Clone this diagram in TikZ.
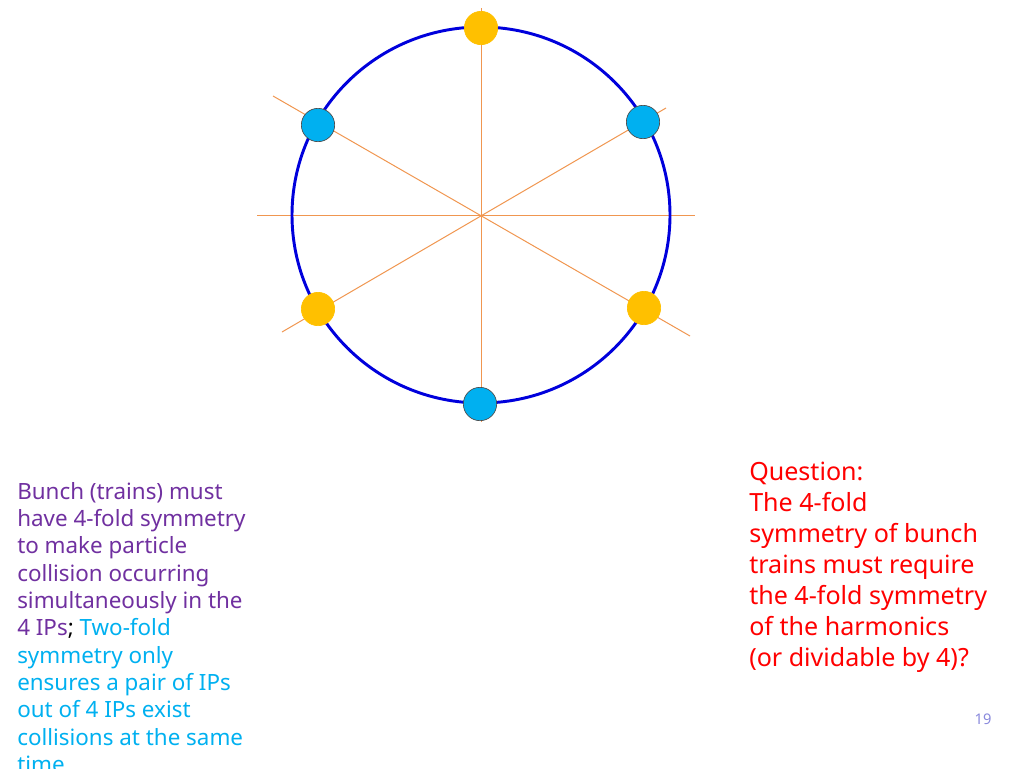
\documentclass[tikz,border=0pt]{standalone}
\usepackage{fontspec}
\setmainfont{Noto Sans}
\definecolor{ring}{RGB}{0,0,220}
\definecolor{spoke}{RGB}{240,150,80}
\definecolor{gold}{RGB}{255,192,0}
\definecolor{sky}{RGB}{0,176,240}
\definecolor{purp}{RGB}{112,48,160}
\definecolor{pnum}{RGB}{137,137,220}
\begin{document}
\begin{tikzpicture}[x=0.75pt,y=-0.75pt,
  sp/.style={spoke,line width=0.75pt},
  dot/.style={circle,draw=black!70,line width=0.5pt,minimum size=25pt,inner sep=0pt},
  yel/.style={dot,fill=gold,draw=gold},
  blu/.style={dot,fill=sky}]
\useasboundingbox (0,0) rectangle (1024,768);
\coordinate (c) at (481,215);
\coordinate (h1) at (257,215); \coordinate (h2) at (695,215);
\coordinate (v1) at (481,8); \coordinate (v2) at (481,422);
\coordinate (d1) at (273,96); \coordinate (d2) at (690,336);
\coordinate (e1) at (282,332); \coordinate (e2) at (666,108);
\draw[sp] (h1) -- (h2);
\draw[sp] (v1) -- (v2);
\draw[sp] (d1) -- (d2);
\draw[sp] (e1) -- (e2);
\draw[ring,line width=2.2pt] (c) ellipse [x radius=189, y radius=188];
\node[yel] (t) at (481,28) {};
\node[blu] (a) at (318,125) {};
\node[blu] (b) at (643,122) {};
\node[yel] (d) at (318,309) {};
\node[yel] (e) at (644,308) {};
\node[blu] (f) at (480,404) {};
\node[anchor=north west,align=left,inner sep=0pt,font=\fontsize{16.8}{20.5}\selectfont,text=purp] (lt) at (17,482)
{Bunch (trains) must\\have 4-fold symmetry\\to make particle\\collision occurring\\simultaneously in the\\4 IPs\textcolor{black}{;} \textcolor{sky}{Two-fold}\\\textcolor{sky}{symmetry only}\\\textcolor{sky}{ensures a pair of IPs}\\\textcolor{sky}{out of 4 IPs exist}\\\textcolor{sky}{collisions at the same}\\\textcolor{sky}{time.}};
\node[anchor=north west,align=left,inner sep=0pt,font=\fontsize{18.8}{23.2}\selectfont,text=red] (rt) at (749,462)
{Question:\\The 4-fold\\symmetry of bunch\\trains must require\\the 4-fold symmetry\\of the harmonics\\(or dividable by 4)?};
\node[anchor=base,font=\fontsize{11}{13}\selectfont,text=pnum] (pg) at (983,724) {19};
\end{tikzpicture}
\end{document}
